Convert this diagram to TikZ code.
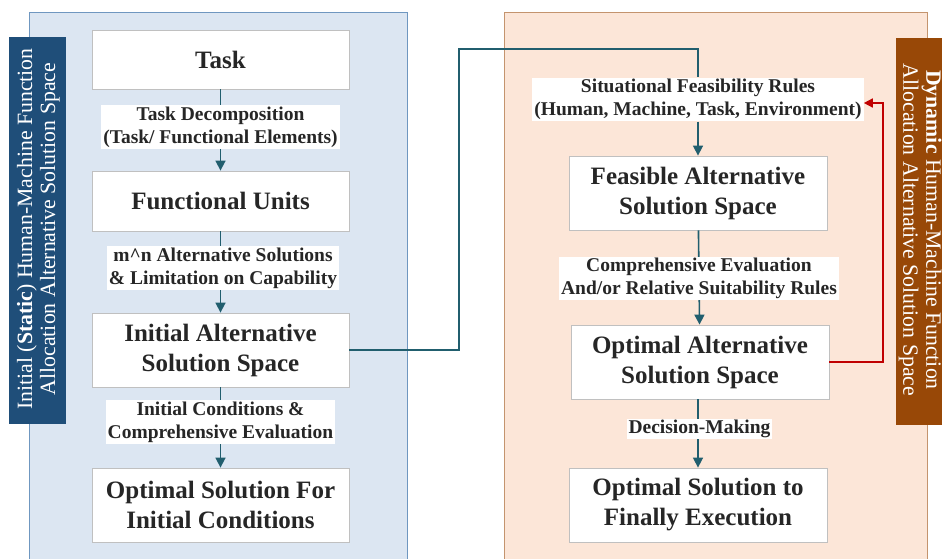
\documentclass[tikz,border=0pt]{standalone}
\usepackage{fontspec}
\setmainfont{Liberation Serif}
\usetikzlibrary{arrows.meta,calc}
\definecolor{lpfill}{HTML}{DCE6F2}
\definecolor{lpdraw}{HTML}{6F97C0}
\definecolor{rpfill}{HTML}{FCE6D8}
\definecolor{rpdraw}{HTML}{C4946E}
\definecolor{ltab}{HTML}{1F4E79}
\definecolor{rtab}{HTML}{984807}
\definecolor{tealc}{HTML}{215E6E}
\definecolor{redc}{HTML}{C00000}
\definecolor{boxline}{HTML}{C0C0C0}
\definecolor{txt}{HTML}{262626}
\begin{document}
\begin{tikzpicture}[x=1pt,y=-1pt,
  box/.style={draw=boxline,line width=0.8pt,fill=white,minimum width=257pt,align=center,
    text=txt,font=\bfseries\fontsize{25}{30}\selectfont,inner sep=0pt},
  lab/.style={fill=white,align=center,text=txt,font=\bfseries\fontsize{19.5}{23}\selectfont,inner xsep=2pt,inner ysep=1.5pt},
  conn/.style={draw=tealc,line width=1.6pt},
  arr/.style={conn,-{Triangle[length=10pt,width=10pt]}},
  rarr/.style={draw=redc,line width=1.6pt,-{Triangle[length=9pt,width=9pt]}},
  tabtext/.style={text=white,align=center,font=\fontsize{21.8}{23}\selectfont}
]
\clip (0,0) rectangle (942,559);
\fill[white] (0,0) rectangle (942,559);
% panels
\draw[fill=lpfill,draw=lpdraw,line width=1pt] (29,13) rectangle (407,600);
\draw[fill=rpfill,draw=rpdraw,line width=1pt] (504,13) rectangle (927,600);
% tabs
\fill[ltab] (9,37) rectangle (66,424);
\node[tabtext,rotate=90] (ltabt) at (38.5,229) {Initial (\textbf{Static}) Human-Machine Function\\Allocation Alternative Solution Space};
\fill[rtab] (896,38) rectangle (953,425);
\node[tabtext,rotate=-90] (rtabt) at (920,230) {\textbf{Dynamic} Human-Machine Function\\Allocation Alternative Solution Space};
% left boxes
\node[box,minimum height=59pt] (task) at (220.5,59.5) {Task};
\node[box,minimum height=60pt] (fu) at (220.5,201) {Functional Units};
\node[box,minimum height=74pt] (ias) at (220.5,350) {Initial Alternative\\Solution Space};
\node[box,minimum height=74pt] (osic) at (220.5,505) {Optimal Solution For\\Initial Conditions};
% right boxes
\node[box,minimum width=258pt,minimum height=74pt] (feas) at (698,193) {Feasible Alternative\\Solution Space};
\node[box,minimum width=258pt,minimum height=74pt] (oas) at (700,362) {Optimal Alternative\\Solution Space};
\node[box,minimum width=258pt,minimum height=74pt] (ostf) at (698,505) {Optimal Solution to\\Finally Execution};
% coordinates
\coordinate (t1) at (459,49);
\coordinate (r1) at (883,103);
% connectors
\draw[arr] (task) -- (fu);
\draw[arr] (fu) -- (ias);
\draw[arr] (ias) -- (osic);
\draw[arr] (feas) -- (oas);
\draw[arr] (oas.south -| ostf) -- (ostf);
% labels
\node[lab] (l1) at (220.5,127) {Task Decomposition\\(Task/ Functional Elements)};
\node[lab] (l2) at (223,268) {m\^{}n Alternative Solutions\\\& Limitation on Capability};
\node[lab] (l3) at (220.5,422) {Initial Conditions \&\\Comprehensive Evaluation};
\node[lab] (sfr) at (698,99.5) {Situational Feasibility Rules\\(Human, Machine, Task, Environment)};
\node[lab] (ce) at (699,278.5) {Comprehensive Evaluation\\And/or Relative Suitability Rules};
\node[lab] (dm) at (699.5,429) {Decision-Making};
% long connectors
\draw[conn] (ias.east) -| (t1) -| (sfr.north);
\draw[arr] (sfr.south) -- (feas.north);
\draw[rarr] (oas.east) -| (r1) -- (r1 -| sfr.east);
\end{tikzpicture}
\end{document}
